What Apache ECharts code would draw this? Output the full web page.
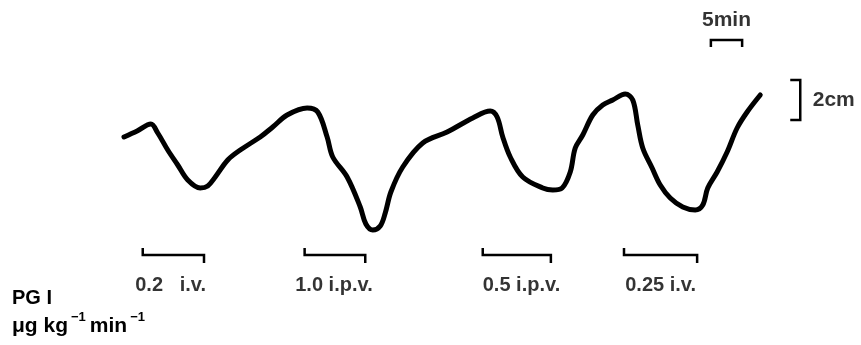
<!DOCTYPE html>
<html>
<head>
<meta charset="utf-8">
<script src="https://cdn.jsdelivr.net/npm/echarts@6/dist/echarts.min.js"></script>
<style>
html,body{margin:0;padding:0;background:#fff;}
#c{width:861px;height:345px;}
</style>
</head>
<body>
<div id="c"></div>
<script>
// Trace: time (min from start of record) and amplitude (cm above lowest trough)
var traceTime = [0, 2.1, 4.3, 5.4, 7.0, 8.6, 10.2, 12.2, 13.4, 14.6, 16.6, 18.6, 21.8, 23.8, 26.1, 29.3, 31.0, 32.5, 33.4, 35.7, 37.8, 38.7, 39.8, 41.0, 41.8, 42.7, 44.6, 47.8, 51.7, 55.8, 58.6, 59.7, 60.6, 61.8, 63.8, 67.0, 68.6, 70.1, 71.4, 72.2, 73.4, 75.0, 76.6, 78.2, 80.2, 81.4, 82.2, 83.0, 84.5, 85.8, 87.4, 89.4, 91.4, 92.6, 93.4, 94.9, 96.5, 98.1, 99.7, 101.8];
var traceCm = [4.65, 4.95, 5.3, 4.85, 4.0, 3.25, 2.5, 2.1, 2.2, 2.65, 3.5, 4.0, 4.65, 5.15, 5.75, 6.1, 5.9, 4.65, 3.65, 2.65, 1.15, 0.3, 0, 0.2, 0.85, 1.9, 3.15, 4.35, 4.9, 5.6, 5.95, 5.65, 4.65, 3.65, 2.65, 2.1, 2.0, 2.1, 2.9, 4.1, 4.75, 5.75, 6.25, 6.5, 6.8, 6.5, 5.25, 4.1, 3.1, 2.25, 1.6, 1.15, 1.0, 1.25, 2.1, 2.9, 3.9, 5.1, 5.9, 6.75];

// PGI infusions: start / end (min), dose label and route
var doseStart = [3.0, 28.9, 57.4, 80.0];
var doseEnd = [12.8, 38.6, 68.3, 91.7];
var doseLabels = ['0.2   i.v.', '1.0 i.p.v.', '0.5 i.p.v.', '0.25 i.v.'];
var doseLabelStart = [1.8, 27.4, 57.4, 80.2];

// Calibration bars
var timeBarStart = 93.9, timeBarMinutes = 5;
var cmBarTop = 7.5, cmBarCm = 2;

var chart = echarts.init(document.getElementById('c'));
var FONT = '"Liberation Sans", Arial, Helvetica, sans-serif';

var series = [];
series.push({
  type: 'line',
  data: traceTime.map(function (t, i) { return [t, traceCm[i]]; }),
  smooth: 0.35,
  symbol: 'none',
  lineStyle: { color: '#000', width: 5, cap: 'round', join: 'round' },
  silent: true, animation: false
});
doseStart.forEach(function (s, i) {
  var e = doseEnd[i];
  series.push({
    type: 'line', symbol: 'none', silent: true, animation: false,
    data: [[s, -0.9], [s, -1.25], [e, -1.25], [e, -1.65]],
    lineStyle: { color: '#000', width: 2.5, join: 'miter' }
  });
});
series.push({
  type: 'scatter', symbolSize: 0, silent: true, animation: false,
  data: doseLabelStart.map(function (t, i) { return { value: [t, -2.75], name: doseLabels[i] }; }),
  label: { show: true, position: 'right', distance: 0, formatter: '{b}',
    color: '#000', fontFamily: FONT, fontWeight: 'bold', fontSize: 20 }
});
// 5 min bar
series.push({
  type: 'line', symbol: 'none', silent: true, animation: false,
  data: [[timeBarStart, 9.15], [timeBarStart, 9.5], [timeBarStart + timeBarMinutes, 9.5], [timeBarStart + timeBarMinutes, 9.15]],
  lineStyle: { color: '#000', width: 2.5, join: 'miter' }
});
// 2 cm bar
series.push({
  type: 'line', symbol: 'none', silent: true, animation: false,
  data: [[106.6, cmBarTop], [108.2, cmBarTop], [108.2, cmBarTop - cmBarCm], [106.6, cmBarTop - cmBarCm]],
  lineStyle: { color: '#000', width: 2.5, join: 'miter' }
});
series.push({
  type: 'scatter', symbolSize: 0, silent: true, animation: false,
  data: [
    { value: [timeBarStart + timeBarMinutes / 2, 10.5], name: '5min', label: { position: 'inside' } },
    { value: [110.2, cmBarTop - cmBarCm / 2], name: '2cm', label: { position: 'right', distance: 0 } }
  ],
  label: { show: true, formatter: '{b}', color: '#000', fontFamily: FONT, fontWeight: 'bold', fontSize: 21 }
});

chart.setOption({
  backgroundColor: '#fff',
  animation: false,
  grid: { left: 0, right: 0, top: 0, bottom: 0 },
  xAxis: { type: 'value', min: -19.84, max: 117.92, show: false },
  yAxis: { type: 'value', min: -5.75, max: 11.5, show: false },
  series: series,
  graphic: [
    { type: 'text', left: 12, top: 288, style: { text: 'PG I', fill: '#000', font: 'bold 20px ' + FONT } },
    { type: 'text', left: 12, top: 311, style: {
        text: '{a|μg kg}{s|−1}{a|min}{s|−1}',
        rich: {
          a: { fill: '#000', font: 'bold 21px ' + FONT, lineHeight: 26, verticalAlign: 'bottom' },
          s: { fill: '#000', font: 'bold 13px ' + FONT, lineHeight: 26, verticalAlign: 'top', padding: [0, 4, 0, 3] }
        }
    } }
  ]
});
</script>
</body>
</html>
